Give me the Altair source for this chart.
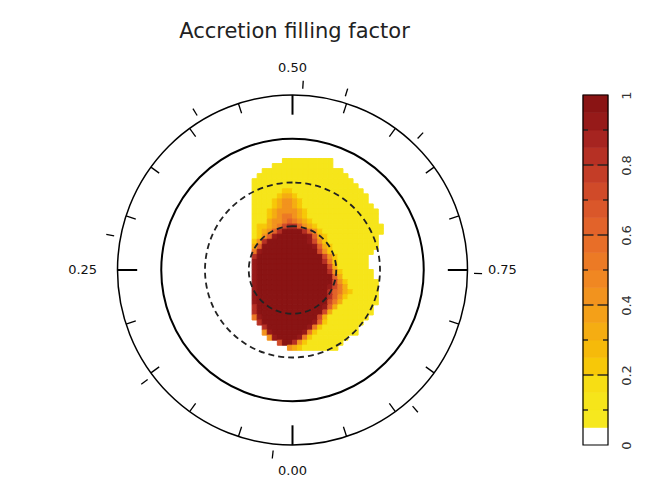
import altair as alt
import pandas as pd

TITLE = "Accretion filling factor"

# ---- polar frame (colatitude in degrees, rotation phase) ----
RING_SOLID_OUTER = [120]
RING_SOLID_EQUATOR = [90]
RING_DASHED = [30, 60]

QUARTER_PHASES = [0.0, 0.25, 0.5, 0.75]
QUARTER_LABELS = ["0.00", "0.25", "0.50", "0.75"]
MINOR_PHASES = [0.05, 0.10, 0.15, 0.20, 0.30, 0.35, 0.40, 0.45,
                0.55, 0.60, 0.65, 0.70, 0.80, 0.85, 0.90, 0.95]
OBS_PHASES = [0.017, 0.147, 0.280, 0.412, 0.509, 0.547, 0.621, 0.753, 0.885]

# ---- colour bar ----
CBAR_LABEL_VALUES = [0, 0.2, 0.4, 0.6, 0.8, 1.0]
CBAR_TICK_VALUES = [0.1, 0.2, 0.3, 0.4, 0.5, 0.6, 0.7, 0.8, 0.9]
LEVEL_THRESHOLDS = [0.05, 0.10, 0.15, 0.20, 0.25, 0.30, 0.35, 0.40, 0.45, 0.50,
                    0.55, 0.60, 0.65, 0.70, 0.75, 0.80, 0.85, 0.90, 0.95]
LEVEL_COLORS = ["#FFFFFF", "#F6E81E", "#F6E51A", "#F7DE14", "#F7C808", "#F6BA0A",
                "#F5AD12", "#F4A018", "#F2931E", "#F08722", "#EC7A25", "#E86E28",
                "#E2632A", "#DA572A", "#D04A29", "#C43D27", "#B63024", "#A62420",
                "#961A19", "#8A1414"]

# ---- accretion filling factor map (grid in projected colatitude units) ----
MAP_X0, MAP_Y0, MAP_CELL = -29.42, 78.17, 3.46
MAP_CODES = {"1": 0.12, "2": 0.22, "3": 0.32, "4": 0.42, "5": 0.52,
             "6": 0.62, "7": 0.72, "8": 0.82, "9": 0.92, "X": 0.98}
MAP_ROWS = [
    "............................",
    ".......1111111111...........",
    ".....111111111111...........",
    "...1111111111111111.........",
    "..111111111111111111........",
    ".11111111111111111111.......",
    ".111111111111111111111......",
    ".1111112211111111111111.....",
    ".11111233211111111111111....",
    ".11112344321111111111111....",
    ".111123443211111111111111...",
    ".1112344443211111111111111..",
    ".1112345543211111111111111..",
    ".1113445654321111111111111..",
    ".12234578864321111111111111.",
    ".123468XXXX8642111111111111.",
    ".12469XXXXXX96321111111111..",
    ".248XXXXXXXX97421111111111..",
    ".36XXXXXXXXXX9632111111111..",
    ".59XXXXXXXXXXX74211111111...",
    ".8XXXXXXXXXXXXX742111111....",
    ".9XXXXXXXXXXXXX852111111....",
    ".9XXXXXXXXXXXXXX73111111....",
    ".9XXXXXXXXXXXXXX842111111...",
    ".9XXXXXXXXXXXXXXX63111111...",
    ".9XXXXXXXXXXXXXXX742111111..",
    ".9XXXXXXXXXXXXXX9753111111..",
    ".9XXXXXXXXXXXXXX8653211111..",
    ".9XXXXXXXXXXXXXX8642111111..",
    ".9XXXXXXXXXXXXXX7531111111..",
    ".8XXXXXXXXXXXXX9631111111...",
    ".8XXXXXXXXXXXXX7311111111...",
    ".59XXXXXXXXXXX7311111111....",
    "..8XXXXXXXXXX9621111111.....",
    "...8XXXXXXXX9521111111......",
    "...49XXXXXX95211111111......",
    "....49XXXX9521111111........",
    "......7XX8421111111.........",
    "........4321111111..........",
]

# ---- geometry / style constants ----
W, H = 640, 484
PX = 175.0                 # pixel radius of the outermost ring
CX, CY = 284.5, 262.0      # ring centre inside the plot area
BIG_TICK = (106.5, 120.0)
MINOR_TICK = (113.0, 120.0)
OBS_TICK = (124.5, 130.0)
LABEL_R = 134.0
FONT = "DejaVu Sans"

XS = alt.Scale(domain=[-120, 120], range=[CX - PX, CX + PX], nice=False, zero=False)
YS = alt.Scale(domain=[-120, 120], range=[CY + PX, CY - PX], nice=False, zero=False)
RS = alt.Scale(type="linear", domain=[0, 120], range=[0, PX], zero=True, nice=False)
COLOR = alt.Scale(type="threshold", domain=LEVEL_THRESHOLDS, range=LEVEL_COLORS)

# heat-map cells
cells = []
for j, row in enumerate(MAP_ROWS):
    for i, c in enumerate(row):
        if c in MAP_CODES:
            xc = MAP_X0 + MAP_CELL * i
            yc = MAP_Y0 - MAP_CELL * j
            cells.append({"x0": xc - MAP_CELL / 2, "x1": xc + MAP_CELL / 2,
                          "y0": yc - MAP_CELL / 2, "y1": yc + MAP_CELL / 2,
                          "v": MAP_CODES[c]})
heat_df = pd.DataFrame(cells)

heat = alt.Chart(heat_df).mark_rect(strokeWidth=1.0).encode(
    x=alt.X("x0:Q", scale=XS, axis=None), x2="x1:Q",
    y=alt.Y("y0:Q", scale=YS, axis=None), y2="y1:Q",
    color=alt.Color("v:Q", scale=COLOR, legend=None),
    stroke=alt.Stroke("v:Q", scale=COLOR, legend=None),
)


def ring_layer(vals, width, color="black", dash=None):
    kw = dict(filled=False, stroke=color, strokeWidth=width)
    if dash:
        kw["strokeDash"] = dash
    return alt.Chart(pd.DataFrame({"colat": vals})).mark_arc(**kw).encode(
        x=alt.XDatum(0, scale=XS, axis=None),
        y=alt.YDatum(0, scale=YS, axis=None),
        radius=alt.Radius("colat:Q", scale=RS, stack=False),
    )


def tick_layer(phases, r0, r1, width):
    df = pd.DataFrame({"p": phases, "r0": [r0] * len(phases), "r1": [r1] * len(phases)})
    return alt.Chart(df).transform_calculate(
        xa="-datum.r0*sin(2*PI*datum.p)", ya="-datum.r0*cos(2*PI*datum.p)",
        xb="-datum.r1*sin(2*PI*datum.p)", yb="-datum.r1*cos(2*PI*datum.p)",
    ).mark_rule(color="black", strokeWidth=width).encode(
        x=alt.X("xa:Q", scale=XS, axis=None), x2="xb:Q",
        y=alt.Y("ya:Q", scale=YS, axis=None), y2="yb:Q",
    )


def label_layer(p, text):
    if p == 0.25:
        align, base = "right", "middle"
    elif p == 0.75:
        align, base = "left", "middle"
    elif p == 0.5:
        align, base = "center", "bottom"
    else:
        align, base = "center", "top"
    df = pd.DataFrame({"p": [p], "t": [text], "r": [LABEL_R]})
    return alt.Chart(df).transform_calculate(
        xl="-datum.r*sin(2*PI*datum.p)", yl="-datum.r*cos(2*PI*datum.p)",
    ).mark_text(align=align, baseline=base, font=FONT, fontSize=13, color="#111").encode(
        x=alt.X("xl:Q", scale=XS, axis=None),
        y=alt.Y("yl:Q", scale=YS, axis=None),
        text="t:N",
    )


title = alt.Chart(pd.DataFrame({"t": [TITLE]})).mark_text(
    font=FONT, fontSize=21, color="#222", align="center", baseline="alphabetic"
).encode(x=alt.value(286.5), y=alt.value(30), text="t:N")

main = alt.layer(
    heat,
    ring_layer(RING_DASHED, 1.8, "#222", [6, 4]),
    ring_layer(RING_SOLID_EQUATOR, 2.0),
    ring_layer(RING_SOLID_OUTER, 1.5),
    tick_layer(QUARTER_PHASES, BIG_TICK[0], BIG_TICK[1], 2.0),
    tick_layer(MINOR_PHASES, MINOR_TICK[0], MINOR_TICK[1], 1.3),
    tick_layer(OBS_PHASES, OBS_TICK[0], OBS_TICK[1], 1.3),
    *[label_layer(p, t) for p, t in zip(QUARTER_PHASES, QUARTER_LABELS)],
    title,
)

# ---- colour bar panel ----
CBX = alt.Scale(domain=[0, 1], range=[575, 600], nice=False, zero=False)
CBY = alt.Scale(domain=[0, 1], range=[437, 87], nice=False, zero=False)
CB_AXIS = alt.Axis(orient="right", offset=600 - W, values=CBAR_LABEL_VALUES, format="~g",
                   labelAngle=270, labelAlign="center", labelBaseline="top",
                   labelPadding=12, ticks=False, domain=False, grid=False, title=None,
                   labelFontSize=13, labelFont=FONT, labelColor="#333",
                   labelFlush=False, labelOverlap=False)

band_lo = [0.0] + LEVEL_THRESHOLDS
band_hi = LEVEL_THRESHOLDS + [1.0]
cb_df = pd.DataFrame({"lo": band_lo, "hi": band_hi})
cb_df["v"] = (cb_df["lo"] + cb_df["hi"]) / 2

bands = alt.Chart(cb_df).mark_rect(strokeWidth=0.6).encode(
    x=alt.XDatum(0, scale=CBX, axis=None), x2=alt.datum(1),
    y=alt.Y("lo:Q", scale=CBY, axis=CB_AXIS), y2="hi:Q",
    color=alt.Color("v:Q", scale=COLOR, legend=None),
    stroke=alt.Stroke("v:Q", scale=COLOR, legend=None),
)

cbt = pd.DataFrame({"t": CBAR_TICK_VALUES})
tick_len = "(round(datum.t*10) % 2 == 0) ? 0.42 : 0.2"
cb_ticks_left = alt.Chart(cbt).transform_calculate(a="0", b=tick_len).mark_rule(
    color="#222", strokeWidth=1.4).encode(
    x=alt.X("a:Q", scale=CBX, axis=None), x2="b:Q",
    y=alt.Y("t:Q", scale=CBY, axis=CB_AXIS),
)
cb_ticks_right = alt.Chart(cbt).transform_calculate(a="1 - (" + tick_len + ")", b="1").mark_rule(
    color="#222", strokeWidth=1.4).encode(
    x=alt.X("a:Q", scale=CBX, axis=None), x2="b:Q",
    y=alt.Y("t:Q", scale=CBY, axis=CB_AXIS),
)
cb_border = alt.Chart(pd.DataFrame({"a": [0]})).mark_rect(
    filled=False, stroke="black", strokeWidth=1.2).encode(
    x=alt.XDatum(0, scale=CBX, axis=None), x2=alt.datum(1),
    y=alt.YDatum(0, scale=CBY, axis=CB_AXIS), y2=alt.datum(1),
)

cbar = alt.layer(bands, cb_ticks_left, cb_ticks_right, cb_border)

chart = alt.layer(main, cbar).resolve_scale(
    x="independent", y="independent", color="shared"
).properties(
    width=W, height=H, padding=0, autosize=alt.AutoSizeParams(type="none"),
    background="white",
).configure_view(stroke=None)

chart.save("out.html", embed_options={"renderer": "svg", "actions": False})
